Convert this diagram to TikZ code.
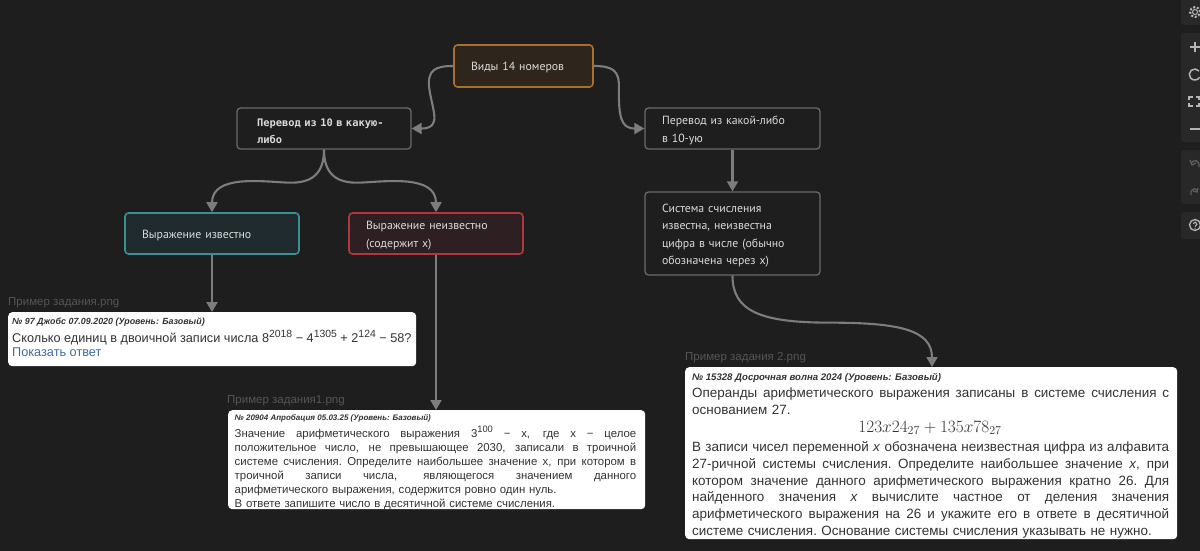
\documentclass[tikz,border=0pt]{standalone}
\usepackage{fontspec}
\setmainfont{PT Sans}
\newfontfamily\shotfont{Liberation Sans}
\newfontfamily\codefont{DejaVu Sans Mono}
\usetikzlibrary{arrows.meta,calc}
\definecolor{bgc}{HTML}{1E1E1E}
\definecolor{wirec}{HTML}{7D7D7D}
\definecolor{graystroke}{HTML}{6A6A6A}
\definecolor{labelc}{HTML}{DADADA}
\definecolor{capc}{HTML}{555555}
\definecolor{shotink}{HTML}{333333}
\definecolor{linkc}{HTML}{3F6C9C}
\definecolor{panelc}{HTML}{282828}
\definecolor{iconc}{HTML}{B5B5B5}
\definecolor{icondim}{HTML}{5E5E5E}
\definecolor{orangeS}{HTML}{A8702E}
\definecolor{orangeF}{HTML}{2E261D}
\definecolor{tealS}{HTML}{3A9092}
\definecolor{tealF}{HTML}{1F2B2C}
\definecolor{redS}{HTML}{B0383C}
\definecolor{redF}{HTML}{2E2022}
\newdimen\jlw
\newcommand{\jl}[1]{\hbox to\jlw{\spaceskip=\fontdimen2\font plus 1fil\relax\xspaceskip=\spaceskip #1}}
\newcommand{\sups}[1]{\raisebox{0.42em}{\scalebox{0.82}{#1}}}
\newcommand{\upf}{\rule{0pt}{12.5pt}}
\tikzset{
  card/.style={draw=graystroke,fill=bgc,rounded corners=3.5pt,line width=1.3pt,inner ysep=0pt,inner xsep=17pt,
    text=labelc,align=left,font=\fontsize{11.8}{17.2}\selectfont},
  shot/.style={fill=white,draw=none,rounded corners=4pt,inner sep=0pt,anchor=north west},
  shottext/.style={anchor=north west,inner sep=0pt,text=shotink},
  caption/.style={anchor=west,inner sep=0pt,text=capc,font=\shotfont\fontsize{11.5}{13}\selectfont},
  wire/.style={draw=wirec,line width=2.1pt,-{Triangle[length=10pt,width=11pt]}},
  panel/.style={fill=panelc,rounded corners=3pt,draw=none},
  icon/.style={draw=iconc,line width=1.3pt},
  dimicon/.style={draw=icondim,line width=1.3pt}
}
\begin{document}
\begin{tikzpicture}[x=1pt,y=-1pt]
\useasboundingbox (0,0) rectangle (1200,551);
\clip (0,0) rectangle (1200,551);
\fill[bgc] (0,0) rectangle (1200,551);
\foreach \i in {0,...,59}{\foreach \j in {0,...,27}{\fill[white,opacity=0.05] ({\i*20+8},{\j*20+6}) circle (0.6pt);}}

% cards
\node[card,draw=orangeS,fill=orangeF,line width=1.6pt,text width=105pt,minimum height=42pt] (root) at (523.5,66) {\rule{0pt}{11pt}Виды 14 номеров};
\node[card,minimum height=41pt,font=\codefont\bfseries\fontsize{10.4}{17.2}\selectfont,inner xsep=20pt,text width=134pt] (left) at (324,128.5) {\upf Перевод из 10 в какую-\\либо};
\node[card,text width=141pt,minimum height=41pt] (right) at (732.5,128.5) {\upf Перевод из какой-либо\\в 10-ую};
\node[card,text width=141pt,minimum height=83pt] (sys) at (732.5,233.5) {\upf Система счисления\\известна, неизвестна\\цифра в числе (обычно\\обозначена через x)};
\node[card,draw=tealS,fill=tealF,line width=1.6pt,text width=140pt,minimum height=41pt] (known) at (212,233.5) {\upf Выражение известно};
\node[card,draw=redS,fill=redF,line width=1.6pt,text width=140pt,minimum height=41pt] (unknown) at (436,233.5) {\upf Выражение неизвестно\\(содержит x)};

% screenshots
\node[shot,minimum width=408pt,minimum height=54pt] (shotA) at (8,312) {};
\node[shot,minimum width=417pt,minimum height=99pt] (shotB) at (228,410) {};
\node[shot,minimum width=492pt,minimum height=172pt] (shotC) at (685,367) {};

% captions
\node[caption] (capA) at (8,302.5) {Пример задания.png};
\node[caption] (capB) at (227,401) {Пример задания1.png};
\node[caption] (capC) at (685,357.5) {Пример задания 2.png};

% screenshot A
\node[shottext,font=\shotfont\bfseries\itshape\fontsize{8.9}{12}\selectfont] (tA0) at (12,317.5) {№ 97 Джобс 07.09.2020 (Уровень: Базовый)};
\node[shottext,font=\shotfont\fontsize{12.7}{15.5}\selectfont] (tA1) at (12,330) {Сколько единиц в двоичной записи числа 8\sups{2018} − 4\sups{1305} + 2\sups{124} − 58?};
\node[shottext,text=linkc,font=\shotfont\fontsize{12.7}{15.5}\selectfont] (tA2) at (12,348) {Показать ответ};

% screenshot B
\node[shottext,font=\shotfont\bfseries\itshape\fontsize{8}{10}\selectfont] (tB0) at (234.5,414) {№ 20904 Апробация 05.03.25 (Уровень: Базовый)};
\node[shottext,text width=401.5pt,font=\shotfont\fontsize{11.4}{14}\selectfont] (tB1) at (234.5,426) {\lineskiplimit=-10pt \jlw=401.5pt
\jl{Значение арифметического выражения 3\sups{100} − x, где x − целое}
\jl{положительное число, не превышающее 2030, записали в троичной}
\jl{системе счисления. Определите наибольшее значение x, при котором в}
\jl{троичной записи числа, являющегося значением данного}
\hbox{\frenchspacing арифметического выражения, содержится ровно один нуль.}
\hbox{\frenchspacing В ответе запишите число в десятичной системе счисления.}};

% screenshot C
\node[shottext,font=\shotfont\bfseries\itshape\fontsize{9.6}{12}\selectfont] (tC0) at (692,373.5) {№ 15328 Досрочная волна 2024 (Уровень: Базовый)};
\node[shottext,text width=477pt,font=\shotfont\fontsize{13.45}{16.7}\selectfont] (tC1) at (692,387.5) {\lineskiplimit=-10pt \jlw=477pt
\jl{Операнды арифметического выражения записаны в системе счисления с}
\hbox{\frenchspacing основанием 27.}};
\node[text=shotink,inner sep=0pt,font=\fontsize{16.6}{18}\selectfont] (tCm) at (930,428) {$123x24_{27}+135x78_{27}$};
\node[shottext,text width=477pt,font=\shotfont\fontsize{13.45}{16.7}\selectfont] (tC2) at (692,441.5) {\lineskiplimit=-10pt \jlw=477pt
\jl{В записи чисел переменной \textit{x} обозначена неизвестная цифра из алфавита}
\jl{27-ричной системы счисления. Определите наибольшее значение \textit{x}, при}
\jl{котором значение данного арифметического выражения кратно 26. Для}
\jl{найденного значения \textit{x} вычислите частное от деления значения}
\jl{арифметического выражения на 26 и укажите его в ответе в десятичной}
\hbox{\frenchspacing системе счисления. Основание системы счисления указывать не нужно.}};

% connectors
\draw[wire] (root.west) .. controls ($(root.west)+(-18,0)$) and ($(root.west)+(-26,4)$) .. ($(root.west)+(-24,22)$) .. controls ($(root.west)+(-21,44)$) and ($(left.east)+(31,0)$) .. (left.east);
\draw[wire] (root.east) .. controls ($(root.east)+(18,0)$) and ($(root.east)+(26,4)$) .. ($(root.east)+(25,22)$) .. controls ($(root.east)+(25,50)$) and ($(right.west)+(-24,0)$) .. (right.west);
\draw[wire] (left.south) .. controls ($(left.south)+(0,23)$) and ($(left.south)+(-11,34)$) .. ($(left.south)+(-36,33)$) .. controls ($(left.south)+(-61,32)$) and ($(known.north)+(0,-38)$) .. (known.north);
\draw[wire] (left.south) .. controls ($(left.south)+(0,23)$) and ($(left.south)+(11,34)$) .. ($(left.south)+(36,33)$) .. controls ($(left.south)+(61,32)$) and ($(unknown.north)+(0,-38)$) .. (unknown.north);
\draw[wire] (right.south) -- (sys.north);
\draw[wire] (known.south) -- (known.south |- shotA.north);
\draw[wire] (unknown.south) -- (unknown.south |- shotB.north);
\draw[wire] (sys.south) .. controls ($(sys.south)+(0,35)$) and ($(sys.south)+(27,47)$) .. ($(sys.south)+(97,47)$) .. controls ($(sys.south)+(167,47)$) and ($(shotC.north west)+(247,-37)$) .. ($(shotC.north west)+(247,0)$);

% toolbar
\fill[panel] (1181,-6) rectangle (1206,25);
\fill[panel] (1181,33) rectangle (1206,142);
\fill[panel] (1181,150) rectangle (1206,204);
\fill[panel] (1181,212) rectangle (1206,239);
% gear
\draw[icon,line width=1pt] (1195,12) circle (2.5pt);
\draw[icon,line width=2pt,dash pattern=on 2pt off 1.8pt] (1195,12) circle (5pt);
% plus
\draw[icon] (1190,47) -- (1200,47) (1195,42) -- (1195,52);
% reload
\draw[icon,line width=1.5pt] (1199,71) arc[start angle=40,end angle=330,radius=5.5pt];
% fit
\draw[icon] (1189,100) |- (1193,97) (1189,103) |- (1193,106) (1196,97) -- (1199,97) -- (1199,100) (1196,106) -- (1199,106) -- (1199,103);
% minus
\draw[icon] (1190,129) -- (1200,129);
% undo, redo
\draw[dimicon] (1190,160) -- (1192,165) -- (1196,163) (1191,163) .. controls (1194,159) and (1200,160) .. (1199,167);
\draw[dimicon] (1198,188) -- (1197,192) -- (1193,191) (1197,190) .. controls (1194,187) and (1190,190) .. (1191,195);
% help
\draw[icon] (1195,225) circle (5.5pt);
\draw[icon,line width=1.1pt] (1193.2,223.6) arc[start angle=170,end angle=-70,radius=1.9pt] -- (1195,226.5);
\fill[iconc] (1195,228.3) circle (0.7pt);
\end{tikzpicture}
\end{document}
